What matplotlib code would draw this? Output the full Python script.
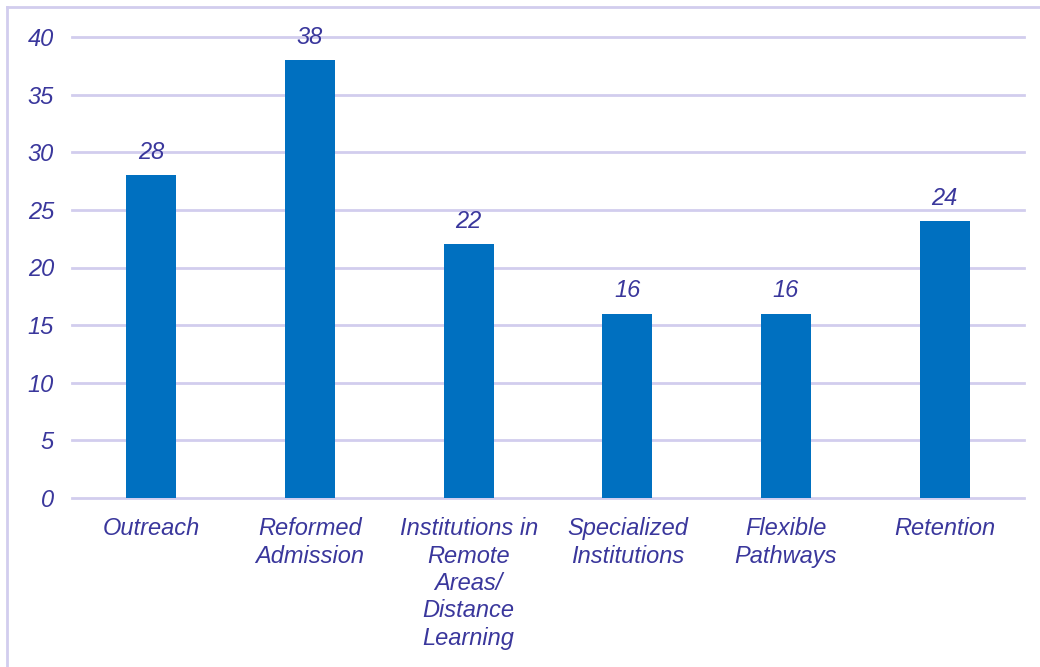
import matplotlib.pyplot as plt
from matplotlib.lines import Line2D

categories = ['Outreach', 'Reformed\nAdmission', 'Institutions in\nRemote\nAreas/\nDistance\nLearning',
              'Specialized\nInstitutions', 'Flexible\nPathways', 'Retention']
values = [28, 38, 22, 16, 16, 24]
yticks = [0, 5, 10, 15, 20, 25, 30, 35, 40]

text_color = '#3a379c'
grid_color = '#d2cdee'
bar_color = '#0070c0'
fs = 17

plt.rcParams['font.family'] = ['Liberation Sans', 'DejaVu Sans']

fig = plt.figure(figsize=(10.4, 6.67), dpi=100)
ax = fig.add_axes([72 / 1040, 1 - 498 / 667, 952 / 1040, 461 / 667])

x = range(len(categories))
ax.bar(x, values, width=0.315, color=bar_color, zorder=3)

for i, v in enumerate(values):
    ax.annotate(str(v), (i, v), xytext=(0, 8), textcoords='offset points',
                ha='center', va='bottom', fontsize=fs, style='italic', color=text_color)

ax.set_xlim(-0.5, len(categories) - 0.5)
ax.set_ylim(0, 40)
ax.set_yticks(yticks)
ax.set_yticklabels([str(t) for t in yticks], fontsize=fs, style='italic', color=text_color)
ax.set_xticks(list(x))
ax.set_xticklabels(categories, fontsize=fs, style='italic', color=text_color, linespacing=1.24)
ax.tick_params(axis='y', length=0, pad=13)
ax.tick_params(axis='x', length=0, pad=14)

ax.grid(axis='y', color=grid_color, linewidth=2, zorder=0)
for gl in ax.get_ygridlines():
    gl.set_clip_on(False)
for s in ax.spines.values():
    s.set_visible(False)

# outer frame (only top and left edges fall inside the canvas)
fig.add_artist(Line2D([7 / 1040, 1.0], [1 - 7 / 667, 1 - 7 / 667], color=grid_color, linewidth=2,
                      transform=fig.transFigure))
fig.add_artist(Line2D([7 / 1040, 7 / 1040], [0.0, 1 - 7 / 667], color=grid_color, linewidth=2,
                      transform=fig.transFigure))

fig.savefig('out.png', dpi=100)
